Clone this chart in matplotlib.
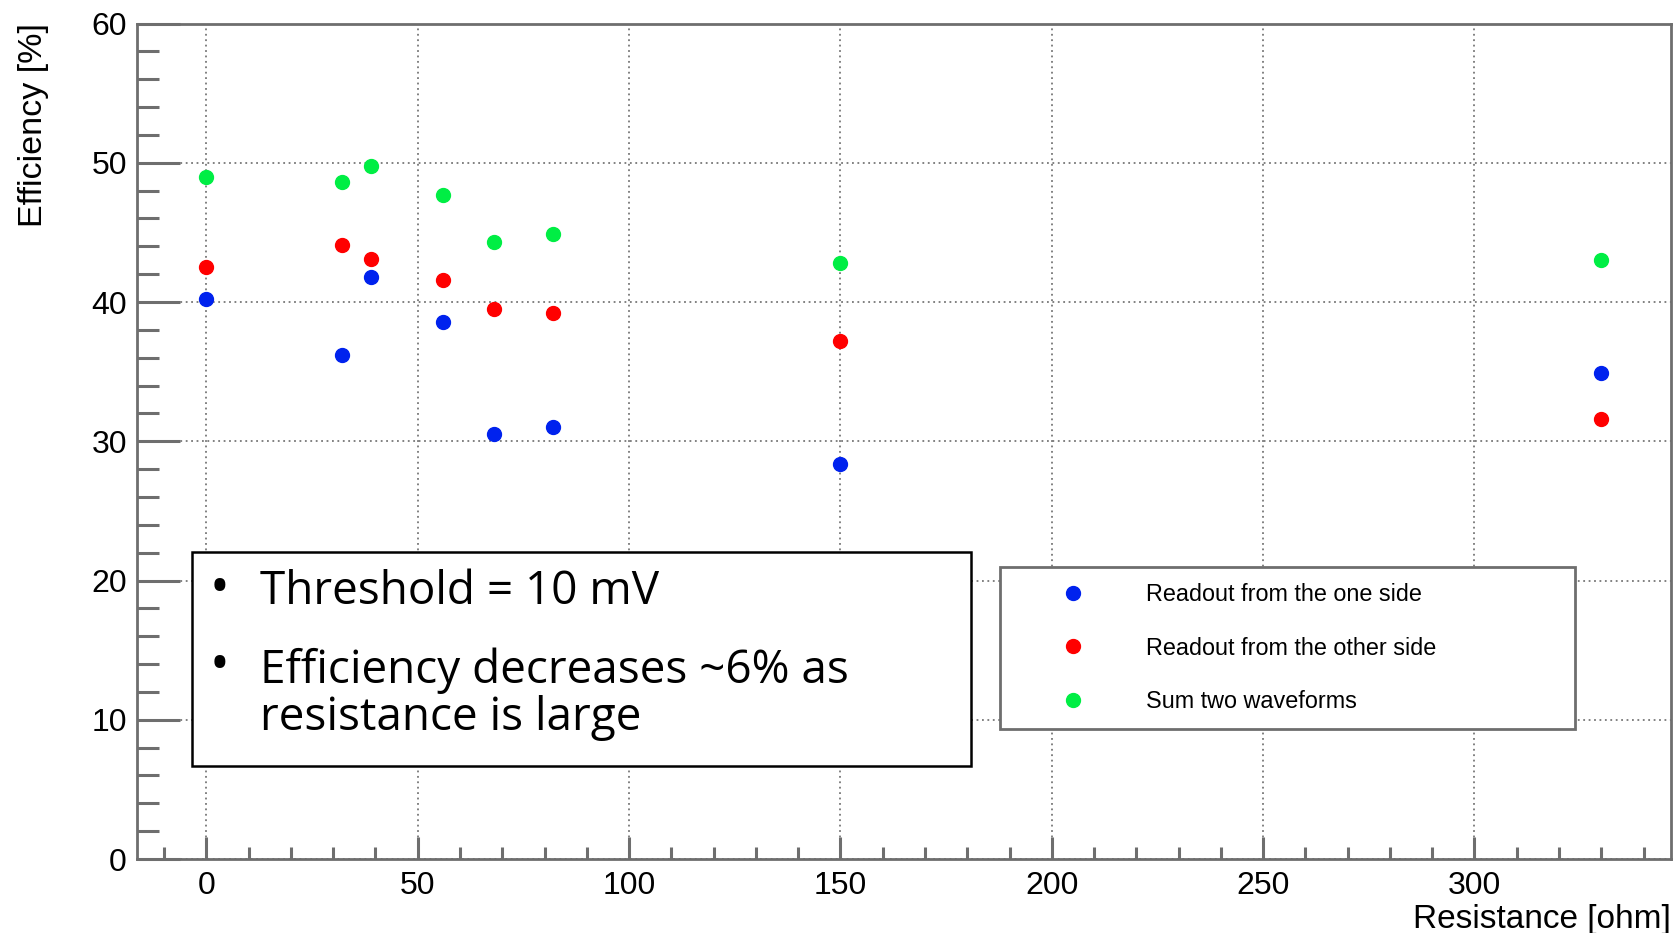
import numpy as np
import matplotlib
matplotlib.use("Agg")
from matplotlib import pyplot as plt
from matplotlib.patches import Rectangle
from matplotlib.ticker import MultipleLocator

# resistance values [ohm]
resistance = [0, 32, 39, 56, 68, 82, 150, 330]

# efficiency [%] per readout configuration
eff_one_side = [40.2, 36.2, 41.8, 38.6, 30.5, 31.0, 28.4, 34.9]
eff_other_side = [42.5, 44.1, 43.1, 41.6, 39.5, 39.2, 37.2, 31.6]
eff_sum = [49.0, 48.6, 49.8, 47.7, 44.3, 44.9, 42.8, 43.0]

series_labels = ["Readout from the one side", "Readout from the other side", "Sum two waveforms"]
series_colors = ["#0022ee", "#ff0000", "#00ee44"]

note_lines = ["Threshold = 10 mV", "Efficiency decreases ~6% as\nresistance is large"]

plt.rcParams['font.family'] = ['Liberation Sans', 'DejaVu Sans']

fig = plt.figure(figsize=(16.73, 9.33), dpi=100)
ax = fig.add_axes([0.0817, 0.0793, 0.9171, 0.8955])

for vals, lab, col in zip([eff_one_side, eff_other_side, eff_sum], series_labels, series_colors):
  ax.plot(resistance, vals, 'o', color=col, markersize=10, label=lab, zorder=3)

ax.set_xlim(-16.5, 346.5)
ax.set_ylim(0, 60)

ax.xaxis.set_major_locator(MultipleLocator(50))
ax.xaxis.set_minor_locator(MultipleLocator(10))
ax.yaxis.set_major_locator(MultipleLocator(10))
ax.yaxis.set_minor_locator(MultipleLocator(2))

ax.grid(True, which='major', color='#777777', linestyle=(0, (1, 2)), linewidth=1.3)

spine_col = '#6e6e6e'
for s in ax.spines.values():
  s.set_color(spine_col)
  s.set_linewidth(2)

ax.tick_params(axis='y', which='major', direction='in', length=31, width=2.2, color=spine_col,
               labelsize=23, pad=7)
ax.tick_params(axis='y', which='minor', direction='in', length=16, width=2.2, color=spine_col)
ax.tick_params(axis='x', which='major', direction='in', length=16, width=2.2, color=spine_col,
               labelsize=23, pad=8.5)
ax.tick_params(axis='x', which='minor', direction='in', length=8.5, width=2.2, color=spine_col)

ax.set_ylabel("Efficiency [%]", fontsize=24.5, loc='top')
ax.yaxis.set_label_coords(-0.057, 1.0)
ax.set_xlabel("Resistance [ohm]", fontsize=24, loc='right')
ax.xaxis.set_label_coords(1.0, -0.054)

leg = ax.legend(loc='upper left', bbox_to_anchor=(0.5977, 0.3923, 0.3437, 0.0),
                bbox_transform=fig.transFigure, mode='expand', borderaxespad=0, fontsize=16.8,
                frameon=True, fancybox=False, edgecolor=spine_col, framealpha=1,
                borderpad=0.7, labelspacing=1.3, handlelength=4.9, handletextpad=0.65)
leg.get_frame().set_linewidth(2)
leg.set_zorder(5)

# text box with notes
fig.patches.append(Rectangle((0.1148, 0.179), 0.4656, 0.2294, transform=fig.transFigure,
                             facecolor='white', edgecolor='black', linewidth=1.8, zorder=6))
note_font = ['Open Sans', 'DejaVu Sans']
bullet_base = [0.3526, 0.2701]   # baseline of first line of each item
last_base = [0.3526, 0.2176]     # baseline of last line of each item
for bb, lb, line in zip(bullet_base, last_base, note_lines):
  fig.text(0.1315, bb, u"\u2022", fontsize=38, family=note_font, va='baseline', ha='center', zorder=7)
  fig.text(0.1555, lb, line, fontsize=33, family=note_font, va='baseline', ha='left',
           linespacing=1.04, zorder=7)

fig.savefig("out.png", dpi=100)
